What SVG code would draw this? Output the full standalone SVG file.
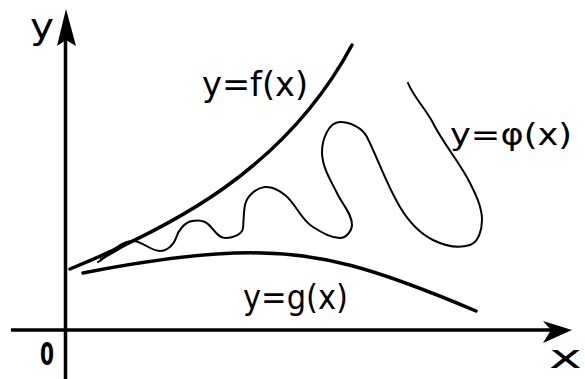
<svg xmlns="http://www.w3.org/2000/svg" width="585" height="379" viewBox="0 0 585 379">
<style>
.ax{stroke:#000;stroke-width:3.5;fill:none}
.thick{stroke:#000;stroke-width:3.5;fill:none;stroke-linecap:round}
.thin{stroke:#000;stroke-width:2;fill:none;stroke-linecap:round;stroke-linejoin:round}
.hd{fill:#000}
text{font-family:"DejaVu Sans","Liberation Sans",sans-serif;fill:#000}
</style>
<rect width="585" height="379" fill="#fff"/>
<g id="axes">
<line class="ax" x1="65.5" y1="379" x2="65.5" y2="38"/>
<polygon class="hd" points="66,9 76,46 66,40 57,46"/>
<line class="ax" x1="11" y1="330" x2="558" y2="330"/>
<polygon class="hd" points="572,330 543,321 551,330 543,343"/>
</g>
<g id="curve-f">
<path class="thick" d="M70,269 C170,228 285,170 352,45"/>
</g>
<g id="curve-g">
<path class="thick" d="M83,273 C170,256 225,252 262,253 C320,254 370,266 476,311"/>
</g>
<g id="curve-phi">
<path class="thin" d="M98,262 C109.7,255 119.4,241 133,241 C142.6,241 150.4,251 160,251 C166.9,251 174,244.6 176,238 C178.2,230.5 184.4,222.5 192,221 C196.2,220.2 201.1,220.1 205,222 C212.6,225.8 216.5,238 225,238 C231.9,238 242.3,234.9 243,228 C243.8,220.3 243.5,212.5 245,205 C246.8,196.2 256,187.9 265,187 C272.2,186.3 279.4,190.5 285,195 C296.1,203.9 300.8,219.7 313,227 C321.3,232 330.3,238 340,238 C345.9,238 352,230.9 352,225 C352,214 342.9,204.8 338,195 C331.2,181.3 322,167.3 322,152 C322,140.3 328.3,122 340,122 C350.3,122 362.4,127.8 367,137 C378.5,160.1 386.7,184.9 400,207 C408,220.4 419.1,233 433,240 C444.1,245.5 458.1,248.6 470,245 C478.8,242.4 482,229.2 482,220 C482,207 475.8,194.6 470,183 C459.5,162 443.5,144 433,123 C426,109 413.8,97.6 408,83"/>
<path class="thin" d="M101,259 C112,254 122,247 134,240"/>
</g>
<g id="labels">
<text x="30" y="39" font-size="36" textLength="24" lengthAdjust="spacingAndGlyphs">y</text>
<text x="40" y="365" font-size="32" font-weight="bold" textLength="14" lengthAdjust="spacingAndGlyphs">0</text>
<text x="549" y="368" font-size="32" textLength="33" lengthAdjust="spacingAndGlyphs">x</text>
<text x="202" y="96" font-size="34" textLength="106" lengthAdjust="spacingAndGlyphs">y=f(x)</text>
<text x="243" y="309" font-size="34" textLength="105" lengthAdjust="spacingAndGlyphs">y=g(x)</text>
<text x="450" y="145" font-size="30" textLength="122" lengthAdjust="spacingAndGlyphs">y=φ(x)</text>
</g>
</svg>
